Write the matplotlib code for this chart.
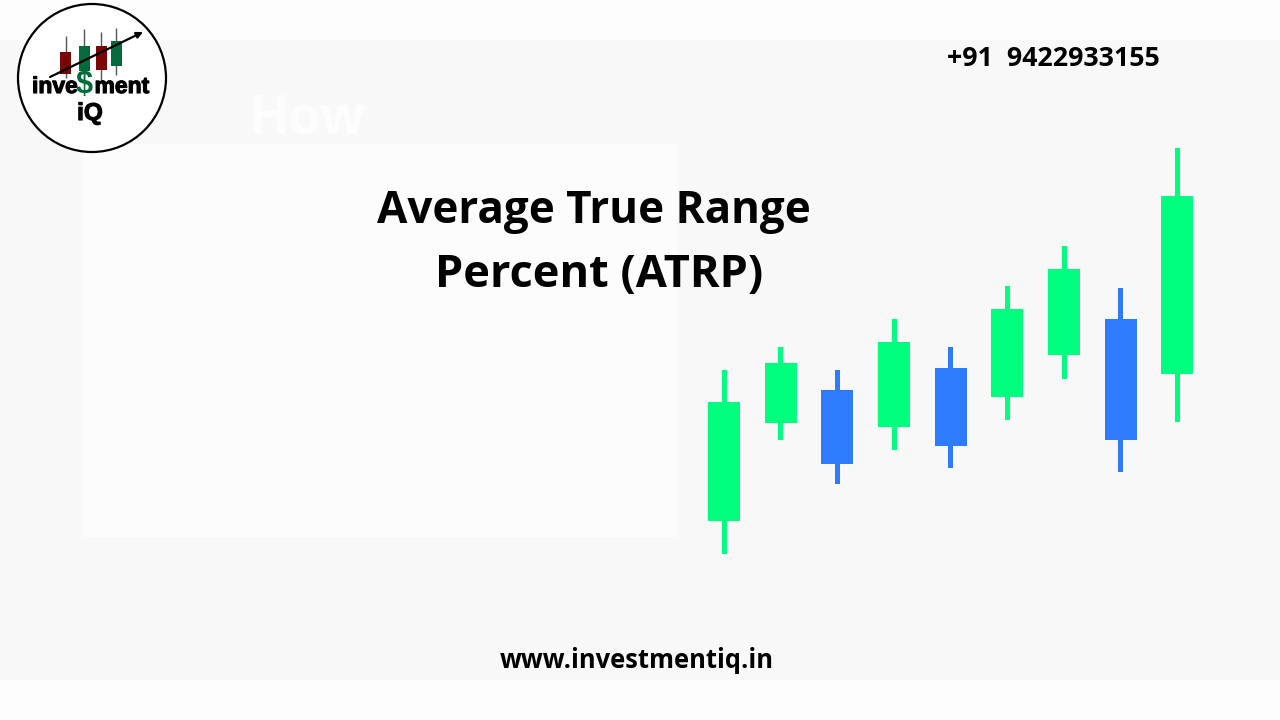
import matplotlib
matplotlib.use("Agg")
import matplotlib.pyplot as plt
import matplotlib.patheffects as pe
from matplotlib.patches import Rectangle, Circle, FancyArrowPatch

GREEN = "#00FE7F"
BLUE = "#2E7BFF"
# Candles, on an arbitrary price scale
wick_low = [9.2, 32.1, 23.3, 30.0, 26.5, 36.0, 44.3, 25.7, 35.6]
body_low = [15.8, 35.5, 27.3, 34.7, 30.9, 40.7, 49.0, 32.1, 45.2]
body_high = [39.6, 47.4, 42.1, 51.7, 46.5, 58.2, 66.2, 56.2, 80.8]
wick_high = [46.0, 50.6, 46.0, 56.3, 50.6, 62.9, 70.8, 62.5, 90.5]
candle_colors = [GREEN, GREEN, BLUE, GREEN, BLUE, GREEN, GREEN, BLUE, GREEN]

# Logo candles
logo_x = [65.7, 84, 101, 116]
logo_wick_top = [36, 29, 32, 28]
logo_wick_bot = [78, 80, 80, 75]
logo_body_top = [52, 46, 46, 41]
logo_body_bot = [74, 71, 70, 66]
logo_colors = ["#7A0505", "#056B3C", "#7A0505", "#056B3C"]

W, H = 1280, 720
fig = plt.figure(figsize=(12.8, 7.2), dpi=100, facecolor="#FDFDFD")

# Page layer in pixel coordinates
page = fig.add_axes([0, 0, 1, 1])
page.set_xlim(0, W)
page.set_ylim(H, 0)
page.axis("off")
page.add_patch(Rectangle((0, 40), W, 640, fc="#F8F8F8", ec="none", zorder=1))
page.add_patch(Rectangle((83, 144), 594, 393, fc="#FCFCFC", ec="none", zorder=2))

font = ["Open Sans", "DejaVu Sans"]
page.text(307, 119, "How", color="#FDFDFD", fontsize=38, fontweight="bold", family=font,
          ha="center", va="center", zorder=2)
page.text(593.5, 212, "Average True Range", color="black", fontsize=31.7, fontweight="bold",
          family=font, ha="center", va="center", zorder=5)
page.text(599.5, 276, "Percent (ATRP)", color="black", fontsize=32.5, fontweight="bold",
          family=font, ha="center", va="center", zorder=5)
page.text(1053, 59.5, "+91  9422933155", color="black", fontsize=19.3, fontweight="bold",
          family=font, ha="center", va="center", zorder=5)
page.text(636.5, 660, "www.investmentiq.in", color="black", fontsize=18.4, fontweight="bold",
          family=font, ha="center", va="center", zorder=5)

# Logo
page.add_patch(Circle((92, 78), 74, fc="white", ec="black", lw=1.6, zorder=6))
for x, wt, wb, bt, bb, c in zip(logo_x, logo_wick_top, logo_wick_bot,
                                logo_body_top, logo_body_bot, logo_colors):
    page.plot([x, x], [wt, wb], color="#555555", lw=1.0, zorder=7, solid_capstyle="butt")
    page.add_patch(Rectangle((x - 5.5, bt), 11, bb - bt, fc=c, ec="none", zorder=8))
page.add_patch(FancyArrowPatch((50, 77), (143, 32), arrowstyle="-|>", mutation_scale=9,
                               color="black", lw=1.6, shrinkA=0, shrinkB=0, zorder=9))
logo_font = ["Liberation Sans", "DejaVu Sans"]
heavy = [pe.withStroke(linewidth=0.8, foreground="black")]
page.text(32, 93, "inve", color="black", fontsize=16.5, fontweight="bold", family=logo_font,
          ha="left", va="baseline", zorder=10, path_effects=heavy)
page.text(84, 93.5, "$", color="#056B3C", fontsize=22, fontweight="bold", family=logo_font,
          ha="center", va="baseline", zorder=10)
page.text(149, 93, "ment", color="black", fontsize=16.5, fontweight="bold", family=logo_font,
          ha="right", va="baseline", zorder=10, path_effects=heavy)
page.text(90, 120, "iQ", color="black", fontsize=17.5, fontweight="bold", family=logo_font,
          ha="center", va="baseline", zorder=10, path_effects=heavy)

# Candlestick axes: xlim -1..9 maps to 667.3..1234 px, ylim 0..100 maps to y 600..100 px
x0, x1 = 724 - 56.67, 724 + 9 * 56.67
ax = fig.add_axes([x0 / W, (H - 600) / H, (x1 - x0) / W, 500 / H], facecolor="none")
ax.set_xlim(-1, 9)
ax.set_ylim(0, 100)
ax.axis("off")
positions = list(range(len(candle_colors)))
ax.bar(positions, [h - l for h, l in zip(wick_high, wick_low)], bottom=wick_low,
       width=5 / 56.67, color=candle_colors, linewidth=0)
ax.bar(positions, [h - l for h, l in zip(body_high, body_low)], bottom=body_low,
       width=32 / 56.67, color=candle_colors, linewidth=0)

fig.savefig("out.png", dpi=100, facecolor=fig.get_facecolor())
